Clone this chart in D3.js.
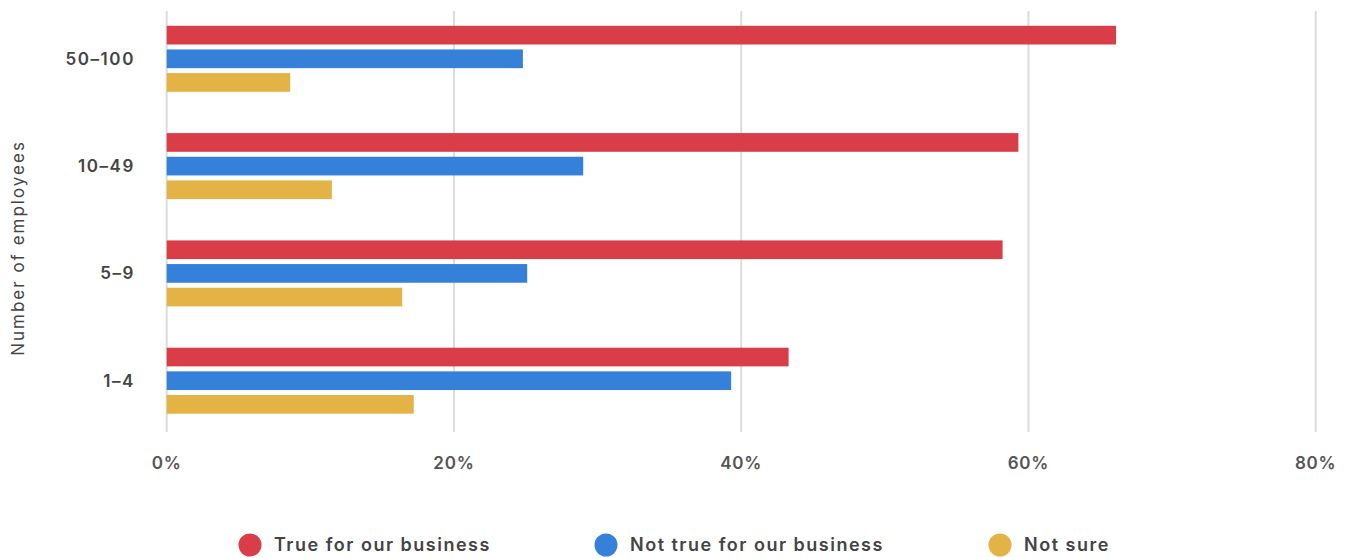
<!DOCTYPE html>
<html>
<head>
<meta charset="utf-8">
<script src="https://cdn.jsdelivr.net/npm/d3@7"></script>
<style>
  html, body { margin: 0; padding: 0; background: #fff; }
  svg { display: block; font-family: Inter, "Noto Sans", sans-serif; }
</style>
</head>
<body>
<svg id="chart" width="1351" height="558"></svg>
<script>
// Share of respondents by company size (percent)
const categories = ["50–100", "10–49", "5–9", "1–4"];
const seriesNames = ["True for our business", "Not true for our business", "Not sure"];
const trueForBusiness = [66.1, 59.3, 58.2, 43.3];
const notTrueForBusiness = [24.8, 29.0, 25.1, 39.3];
const notSure = [8.6, 11.5, 16.4, 17.2];
const xTicks = [0, 20, 40, 60, 80];
const colors = ["#D93D48", "#3581DA", "#E3B345"];

const seriesValues = [trueForBusiness, notTrueForBusiness, notSure];

const svg = d3.select("#chart");

const x = d3.scaleLinear().domain([0, 80]).range([166.7, 1315.7]);

const y = d3.scaleBand()
  .domain(categories)
  .range([5.15, 434.35])
  .paddingInner(0.385)
  .paddingOuter(0.1925);

const ySub = d3.scaleBand()
  .domain(seriesNames)
  .range([0, y.bandwidth()])
  .paddingInner(0.21);

// Vertical gridlines
svg.append("g")
  .selectAll("line")
  .data(xTicks)
  .join("line")
  .attr("x1", d => x(d))
  .attr("x2", d => x(d))
  .attr("y1", 11)
  .attr("y2", 432)
  .attr("stroke", "#dcdcdc")
  .attr("stroke-width", 2);

// Bars
const groups = svg.append("g")
  .selectAll("g")
  .data(categories)
  .join("g")
  .attr("transform", d => `translate(0,${y(d)})`);

groups.selectAll("rect")
  .data((c, i) => seriesNames.map((s, k) => ({ series: s, k, value: seriesValues[k][i] })))
  .join("rect")
  .attr("x", x(0))
  .attr("y", d => ySub(d.series))
  .attr("width", d => x(d.value) - x(0))
  .attr("height", ySub.bandwidth())
  .attr("fill", d => colors[d.k]);

// Category labels
svg.append("g")
  .selectAll("text")
  .data(categories)
  .join("text")
  .attr("x", 135)
  .attr("y", d => y(d) + y.bandwidth() / 2)
  .attr("dy", "0.35em")
  .attr("text-anchor", "end")
  .attr("font-size", 17)
  .attr("font-weight", 600)
  .attr("letter-spacing", "1.6px")
  .attr("fill", "#444")
  .text(d => d);

// X tick labels
svg.append("g")
  .selectAll("text")
  .data(xTicks)
  .join("text")
  .attr("x", d => x(d))
  .attr("y", 463)
  .attr("dy", "0.35em")
  .attr("text-anchor", "middle")
  .attr("font-size", 17)
  .attr("font-weight", 600)
  .attr("letter-spacing", "0.8px")
  .attr("fill", "#555")
  .text(d => d + "%");

// Y axis title
svg.append("text")
  .attr("transform", "translate(18,248) rotate(-90)")
  .attr("dy", "0.35em")
  .attr("text-anchor", "middle")
  .attr("font-size", 17)
  .attr("letter-spacing", "2px")
  .attr("fill", "#444")
  .text("Number of employees");

// Legend
const legendX = [250, 606, 1000];
const legend = svg.append("g")
  .selectAll("g")
  .data(seriesNames)
  .join("g")
  .attr("transform", (d, i) => `translate(${legendX[i]},545)`);

legend.append("circle")
  .attr("r", 11.5)
  .attr("fill", (d, i) => colors[i]);

legend.append("text")
  .attr("x", 24)
  .attr("dy", "0.35em")
  .attr("font-size", 18)
  .attr("font-weight", 600)
  .attr("letter-spacing", "1.5px")
  .attr("fill", "#444")
  .text(d => d);
</script>
</body>
</html>
